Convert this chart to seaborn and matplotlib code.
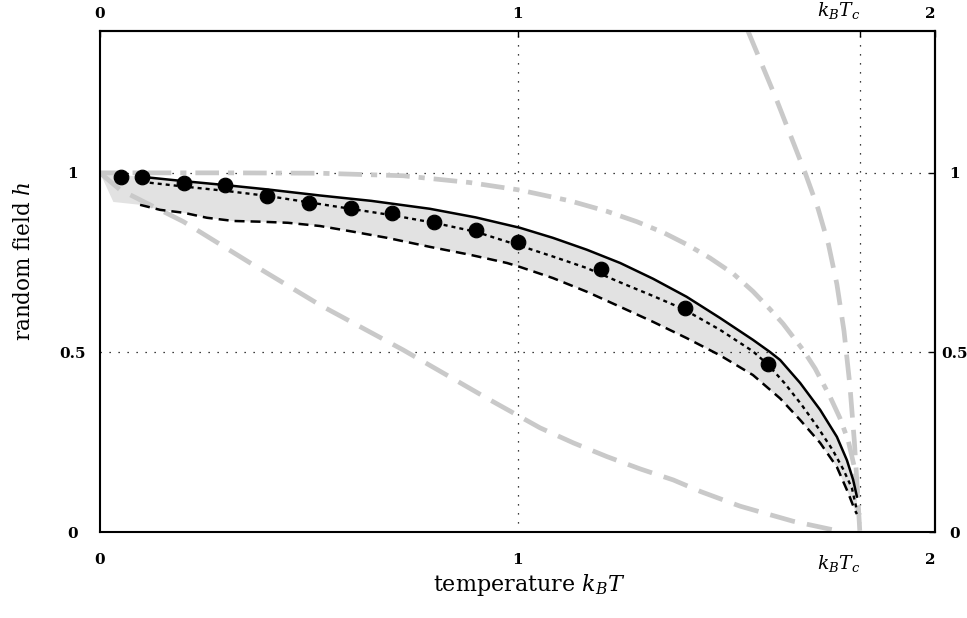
import numpy as np
import pandas as pd
import matplotlib
matplotlib.use("Agg")
import matplotlib.pyplot as plt
import seaborn as sns

# ---------------- data ----------------
Tc = 1.82
x_ticks = [0, 1, Tc, 2]
x_ticklabels = ["0", "1", r"$k_BT_c$", "2"]
y_ticks = [0, 0.5, 1]
y_ticklabels = ["0", "0.5", "1"]

# simulation points
dots_x = [0.05, 0.1, 0.2, 0.3, 0.4, 0.5, 0.6, 0.7, 0.8, 0.9, 1.0, 1.2, 1.4, 1.6]
dots_y = [0.989, 0.989, 0.972, 0.967, 0.936, 0.916, 0.902, 0.888, 0.864, 0.841, 0.808, 0.733, 0.624, 0.468]

# upper bound (solid black)
upper_x = [0.1, 0.2, 0.3, 0.4, 0.527, 0.65, 0.79, 0.9, 1.006, 1.085, 1.166, 1.246, 1.325,
           1.405, 1.485, 1.564, 1.605, 1.629, 1.677, 1.725, 1.765, 1.789, 1.804, 1.813]
upper_y = [0.989, 0.977, 0.966, 0.954, 0.937, 0.922, 0.900, 0.876, 0.847, 0.819, 0.786, 0.749, 0.705,
           0.655, 0.596, 0.535, 0.501, 0.479, 0.415, 0.340, 0.265, 0.200, 0.145, 0.098]

# middle estimate (dotted black)
mid_x = [0.1, 0.2, 0.3, 0.4, 0.5, 0.6, 0.7, 0.8, 0.9, 1.006, 1.085, 1.166, 1.246, 1.325, 1.397,
         1.485, 1.564, 1.6, 1.64, 1.68, 1.72, 1.755, 1.78, 1.801, 1.813]
mid_y = [0.975, 0.962, 0.950, 0.936, 0.918, 0.900, 0.882, 0.861, 0.836, 0.797, 0.767, 0.735, 0.695, 0.657, 0.621,
         0.563, 0.503, 0.466, 0.414, 0.355, 0.290, 0.228, 0.175, 0.122, 0.060]

# lower bound (dashed black)
lower_x = [0.096, 0.144, 0.2, 0.256, 0.32, 0.385, 0.45, 0.527, 0.607, 0.688, 0.79, 0.886, 0.975, 1.006,
           1.085, 1.166, 1.246, 1.325, 1.405, 1.485, 1.564, 1.629, 1.677, 1.725, 1.765, 1.792, 1.808, 1.813]
lower_y = [0.911, 0.897, 0.889, 0.875, 0.866, 0.864, 0.861, 0.852, 0.836, 0.819, 0.794, 0.772, 0.749, 0.738,
           0.707, 0.669, 0.627, 0.585, 0.540, 0.492, 0.437, 0.372, 0.312, 0.248, 0.181, 0.109, 0.061, 0.05]

# shaded band extra corner points near T=0
band_top_x = [0.0]
band_top_y = [1.0]
band_bot_x = [0.0, 0.032]
band_bot_y = [1.0, 0.919]

# grey dash-dot curve
gdd_x = [0.0, 0.3, 0.527, 0.726, 0.886, 1.006, 1.126, 1.214, 1.286, 1.349, 1.405, 1.461, 1.517,
         1.564, 1.605, 1.636, 1.684, 1.713, 1.748, 1.772, 1.792, 1.808, 1.815]
gdd_y = [1.0, 1.0, 0.999, 0.992, 0.973, 0.952, 0.922, 0.893, 0.864, 0.834, 0.801, 0.763, 0.719,
         0.670, 0.620, 0.580, 0.507, 0.455, 0.378, 0.318, 0.255, 0.175, 0.095]

# grey steep dashed curve
gst_x = [1.552, 1.62, 1.689, 1.72, 1.745, 1.765, 1.782, 1.796, 1.807, 1.815, 1.82]
gst_y = [1.395, 1.205, 1.0, 0.9, 0.8, 0.69, 0.56, 0.41, 0.25, 0.1, 0.0]

# grey long dashed lower curve
glo_x = [0.0, 0.048, 0.2, 0.36, 0.527, 0.726, 0.926, 1.054, 1.134, 1.214, 1.293, 1.373, 1.44, 1.533,
         1.581, 1.66, 1.756, 1.775]
glo_y = [1.0, 0.953, 0.864, 0.749, 0.632, 0.507, 0.373, 0.290, 0.248, 0.210, 0.176, 0.145, 0.112, 0.072,
         0.056, 0.030, 0.006, 0.0]

# ---------------- style ----------------
sns.set_theme(style="white")
plt.rcParams["font.family"] = ["DejaVu Serif"]
plt.rcParams["mathtext.fontset"] = "dejavuserif"
plt.rcParams["text.color"] = "black"
plt.rcParams["axes.labelcolor"] = "black"
plt.rcParams["xtick.color"] = "black"
plt.rcParams["ytick.color"] = "black"

fig = plt.figure(figsize=(9.67, 6.18), dpi=100)
ax = fig.add_axes([100 / 967, 1 - 532 / 618, 835 / 967, 501 / 618])

grey = "#c9c9c9"
shade = "#e2e2e2"

# shaded band
poly_x = band_top_x + upper_x + lower_x[::-1] + band_bot_x[::-1]
poly_y = band_top_y + upper_y + lower_y[::-1] + band_bot_y[::-1]
ax.fill(poly_x, poly_y, color=shade, lw=0, zorder=1)

# grid lines
for gx in [1, Tc]:
    ax.axvline(gx, color="black", lw=0.9, linestyle=(0, (1, 6.2)), zorder=1.5)
for gy in [0.5, 1]:
    ax.axhline(gy, color="black", lw=0.9, linestyle=(0, (1, 6.2)), zorder=1.5)

# grey curves
sns.lineplot(x=glo_x, y=glo_y, ax=ax, color=grey, lw=3.4, estimator=None, sort=False,
             linestyle=(0, (5.4, 2.6)), zorder=2)
sns.lineplot(x=gst_x, y=gst_y, ax=ax, color=grey, lw=3.4, estimator=None, sort=False,
             linestyle=(0, (5.4, 2.6)), zorder=2)
sns.lineplot(x=gdd_x, y=gdd_y, ax=ax, color=grey, lw=3.4, estimator=None, sort=False,
             linestyle=(0, (5.0, 1.9, 1.3, 1.9)), zorder=2)

# black curves
sns.lineplot(x=upper_x, y=upper_y, ax=ax, color="black", lw=1.8, estimator=None, sort=False, zorder=3)
sns.lineplot(x=mid_x, y=mid_y, ax=ax, color="black", lw=1.7, estimator=None, sort=False,
             linestyle=(0, (1.7, 1.7)), zorder=3)
sns.lineplot(x=lower_x, y=lower_y, ax=ax, color="black", lw=1.8, estimator=None, sort=False,
             linestyle=(0, (4, 2.4)), zorder=3)

# points
sns.scatterplot(x=dots_x, y=dots_y, ax=ax, color="black", s=110, edgecolor="black", zorder=4)

ax.set_xlim(0, 2)
ax.set_ylim(0, 1.395)

for s in ax.spines.values():
    s.set_color("black")
    s.set_linewidth(1.5)

fs = 11
fw = "bold"
ax.set_xticks(x_ticks)
ax.set_xticklabels(x_ticklabels, fontsize=fs, fontweight=fw)
ax.set_yticks(y_ticks)
ax.set_yticklabels(y_ticklabels, fontsize=fs, fontweight=fw, ha="center")
ax.tick_params(axis="x", direction="in", length=4, width=1, color="black", pad=15)
ax.tick_params(axis="y", direction="in", length=4, width=1, color="black", pad=20)

secx = ax.secondary_xaxis("top")
secx.set_xticks(x_ticks)
secx.set_xticklabels(x_ticklabels, fontsize=fs, fontweight=fw)
secx.tick_params(direction="in", length=4, width=1, color="black", pad=7)
secx.spines["top"].set_linewidth(1.5)
secx.spines["top"].set_color("black")

secy = ax.secondary_yaxis("right")
secy.set_yticks(y_ticks)
secy.set_yticklabels(y_ticklabels, fontsize=fs, fontweight=fw, ha="center")
secy.tick_params(direction="in", length=4, width=1, color="black", pad=14)
secy.spines["right"].set_linewidth(1.5)
secy.spines["right"].set_color("black")

for axis in (ax.xaxis, secx.xaxis):
    labs = axis.get_ticklabels()
    labs[2].set_ha("right")
    labs[2].set_fontsize(13.5)
    labs[3].set_ha("right")

ax.set_xlabel(r"temperature $k_BT$", fontsize=16)
ax.set_ylabel(r"random field $h$", fontsize=15.5)
ax.xaxis.set_label_coords(0.514, -0.080)
ax.yaxis.set_label_coords(-0.0776, 0.54)

fig.savefig("out.png", dpi=100)
